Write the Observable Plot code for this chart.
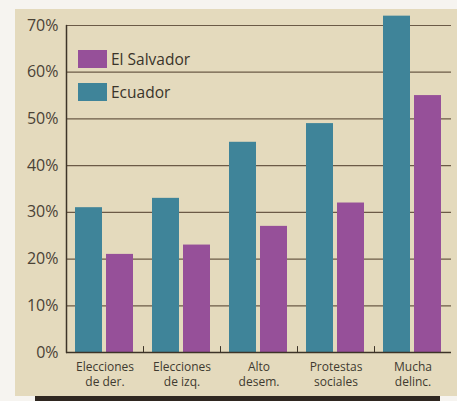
<!DOCTYPE html>
<html>
<head>
<meta charset="utf-8">
<script src="https://cdn.jsdelivr.net/npm/d3@7"></script>
<script src="https://cdn.jsdelivr.net/npm/@observablehq/plot@0.6"></script>
<style>
  html, body { margin: 0; padding: 0; background: #f6f4f0; }
  #wrap { position: relative; width: 457px; height: 401px; overflow: hidden; font-family: "Open Sans", sans-serif; }
  #panel { position: absolute; left: 15px; top: 9px; width: 442px; height: 387px; background: #e4dabd; }
  #rule { position: absolute; left: 35px; top: 396px; width: 405px; height: 5px; background: #2f2720; }
  #chart { position: absolute; left: 0; top: 0; }
  .legend { position: absolute; left: 78px; display: flex; align-items: center; font-size: 15.5px; color: #3a342a; }
  .legend span.sw { display: inline-block; width: 29px; height: 18px; margin-right: 4px; }
</style>
</head>
<body>
<div id="wrap">
  <div id="panel"></div>
  <div id="rule"></div>
  <div id="chart"></div>
  <div class="legend" style="top:48px"><span class="sw" style="background:#965099"></span>El Salvador</div>
  <div class="legend" style="top:81px"><span class="sw" style="background:#3f8499"></span>Ecuador</div>
</div>
<script>
const categories = ["Elecciones de der.", "Elecciones de izq.", "Alto desem.", "Protestas sociales", "Mucha delinc."];
const categoryLabels = ["Elecciones\nde der.", "Elecciones\nde izq.", "Alto\ndesem.", "Protestas\nsociales", "Mucha\ndelinc."];
const series = ["Ecuador", "El Salvador"];
const ecuador = [31, 33, 45, 49, 72];
const elSalvador = [21, 23, 27, 32, 55];
const yTicks = [0, 10, 20, 30, 40, 50, 60, 70];
const seriesColors = ["#3f8499", "#965099"];

const rows = categories.flatMap((cat, i) => [
  {cat, serie: series[0], value: ecuador[i]},
  {cat, serie: series[1], value: elSalvador[i]}
]);

// a plain stroke for vectors (no arrowhead)
const lineShape = {
  draw(context, l) { context.moveTo(0, 0); context.lineTo(0, -l); }
};

const W = 457, H = 395, mTop = 25, mBottom = 43;
const ink = "#3d3428";

const chart = Plot.plot({
  width: W,
  height: H,
  marginLeft: 64,
  marginRight: 4,
  marginTop: mTop,
  marginBottom: mBottom,
  style: {background: "transparent", fontFamily: "Open Sans", color: "#4a4236"},
  fx: {domain: categories, padding: 0, label: null},
  x: {domain: series, paddingInner: 0.125, paddingOuter: 0.28, axis: null},
  y: {domain: [0, 70], axis: null},
  color: {domain: series, range: seriesColors},
  marks: [
    Plot.ruleY(yTicks.filter(t => t > 0), {stroke: "#6b5a47", strokeWidth: 1.2}),
    Plot.barY(rows, {fx: "cat", x: "serie", y: "value", fill: "serie"}),
    Plot.ruleY([0], {stroke: ink, strokeWidth: 1.5}),
    // left axis line, in the first facet only
    Plot.vector([categories[0]], {fx: d => d, frameAnchor: "bottom-left", rotate: 0, anchor: "start",
      length: H - mTop - mBottom, shape: lineShape, stroke: ink, strokeWidth: 1.5}),
    // short ticks between groups
    Plot.vector(categories.slice(1), {fx: d => d, frameAnchor: "bottom-left", rotate: 0, anchor: "start",
      length: 6, shape: lineShape, stroke: ink, strokeWidth: 1}),
    Plot.axisY(yTicks, {tickSize: 0, tickPadding: 8, tickFormat: d => d + "%", fontSize: 16, label: null, fill: "#4a4236"}),
    Plot.axisFx({anchor: "bottom", tickSize: 0, tickPadding: 7, label: null, fontSize: 12, lineHeight: 1.3,
      fill: "#3f3a30", tickFormat: d => categoryLabels[categories.indexOf(d)]})
  ]
});
document.getElementById("chart").append(chart);
</script>
</body>
</html>
